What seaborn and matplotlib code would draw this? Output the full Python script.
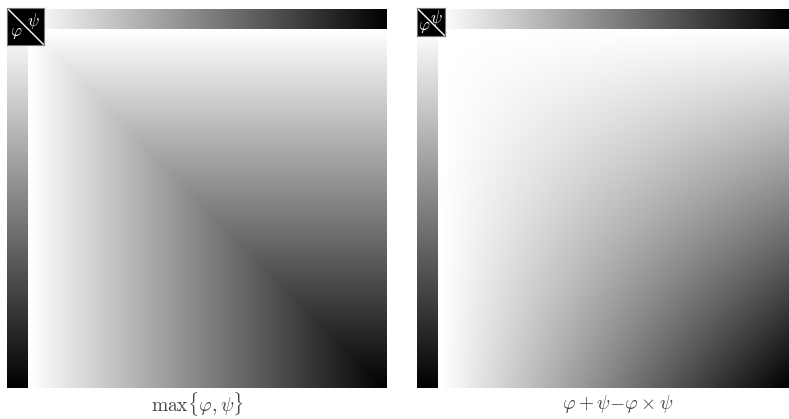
import numpy as np
import matplotlib
matplotlib.use("Agg")
import matplotlib.pyplot as plt
import seaborn as sns

# membership grades along each axis (1 = white, 0 = black)
phi = np.linspace(1, 0, 256)
psi = np.linspace(1, 0, 256)

titles = [r"$\max\{\varphi,\psi\}$", r"$\varphi + \psi{-}\varphi \times \psi$"]
P, S = np.meshgrid(phi, psi)
surfaces = [np.maximum(P, S), P + S - P * S]

sns.set_style("white")
plt.rcParams["mathtext.fontset"] = "cm"

W, H = 789, 419
fig = plt.figure(figsize=(W / 100, H / 100), dpi=100)


def box(x0, y0, x1, y1):
    # pixel box -> figure fraction axes
    return fig.add_axes([x0 / W, 1 - y1 / H, (x1 - x0) / W, (y1 - y0) / H])


# pixel layout of each panel: left bar x0,x1 ; main x0,x1 ; label centre
panels = [
    dict(bar=(7, 28), main=(29, 387), corner=(7, 44), lab=197),
    dict(bar=(417, 438), main=(440, 789), corner=(417, 445), lab=618),
]

for p, z, t in zip(panels, surfaces, titles):
    mx0, mx1 = p["main"]
    bx0, bx1 = p["bar"]

    ax = box(mx0, 29, mx1, 388)
    sns.heatmap(z, ax=ax, cmap="gray", vmin=0, vmax=1, cbar=False,
                xticklabels=False, yticklabels=False)

    axt = box(mx0, 9, mx1, 29)
    sns.heatmap(phi[None, :], ax=axt, cmap="gray", vmin=0, vmax=1, cbar=False,
                xticklabels=False, yticklabels=False)

    axl = box(bx0, 29, bx1, 388)
    sns.heatmap(psi[:, None], ax=axl, cmap="gray", vmin=0, vmax=1, cbar=False,
                xticklabels=False, yticklabels=False)

    cx0, cx1 = p["corner"]
    axc = box(cx0, 8, cx1, 8 + (cx1 - cx0))
    axc.set_facecolor("black")
    axc.set_xlim(0, 1)
    axc.set_ylim(0, 1)
    axc.set_xticks([])
    axc.set_yticks([])
    axc.plot([0, 1], [1, 0], color="white", lw=1)
    for s in axc.spines.values():
        s.set_color("#777777")
        s.set_linewidth(0.8)
    axc.text(0.26, 0.34, r"$\varphi$", color="white", fontsize=12,
             ha="center", va="center")
    axc.text(0.70, 0.64, r"$\psi$", color="white", fontsize=12,
             ha="center", va="center")

    fig.text(p["lab"] / W, 1 - 404 / H, t, ha="center", va="center",
             fontsize=14, color="#444444")

fig.savefig("out.png", dpi=100)
